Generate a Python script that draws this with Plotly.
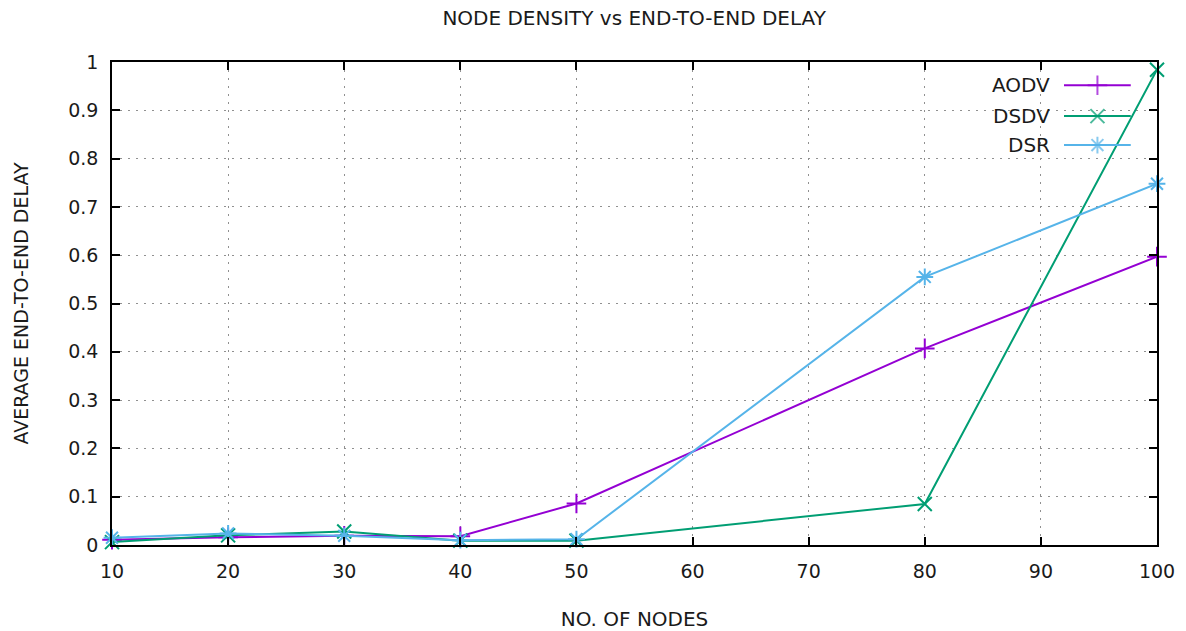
import plotly.graph_objects as go

# Node counts and measured average end-to-end delay per routing protocol
nodes = [10, 20, 30, 40, 50, 80, 100]
aodv = [0.011, 0.016, 0.019, 0.018, 0.086, 0.407, 0.597]
dsdv = [0.006, 0.020, 0.028, 0.009, 0.009, 0.085, 0.984]
dsr = [0.015, 0.024, 0.019, 0.010, 0.012, 0.555, 0.748]

x_ticks = [10, 20, 30, 40, 50, 60, 70, 80, 90, 100]
y_ticks = [0, 0.1, 0.2, 0.3, 0.4, 0.5, 0.6, 0.7, 0.8, 0.9, 1]
y_tick_text = ["0", "0.1", "0.2", "0.3", "0.4", "0.5", "0.6", "0.7", "0.8", "0.9", "1"]

series = [
    ("AODV", aodv, "#9400D3", "cross-thin"),
    ("DSDV", dsdv, "#009E73", "x-thin"),
    ("DSR", dsr, "#56B4E9", "asterisk"),
]

FONT = "DejaVu Sans"
INK = "#1a1a1a"

fig = go.Figure()
for name, vals, color, sym in series:
    fig.add_trace(go.Scatter(
        x=nodes, y=vals, name=name, mode="lines+markers",
        line=dict(color=color, width=2),
        marker=dict(symbol=sym, size=14, line=dict(color=color, width=2), color=color),
        cliponaxis=False, showlegend=False,
    ))

# gnuplot-style key: label on the left, line sample with marker on the right
key_y = [0.952, 0.888, 0.828]
for (name, vals, color, sym), ky in zip(series, key_y):
    fig.add_trace(go.Scatter(
        x=[0.0, 0.5, 1.0], y=[ky, ky, ky], xaxis="x2", yaxis="y2",
        mode="lines+markers", line=dict(color=color, width=2),
        marker=dict(symbol=["circle-open", sym, "circle-open"], size=[0, 14, 0],
                    color=color, line=dict(color=color, width=2)),
        cliponaxis=False, showlegend=False, hoverinfo="skip",
    ))
    fig.add_annotation(
        x=0.8995, y=ky, xref="paper", yref="paper", text=name,
        showarrow=False, xanchor="right", yanchor="middle",
        font=dict(family=FONT, size=20, color=INK),
    )

axis_common = dict(
    showline=True, linecolor="#000000", linewidth=1.5, mirror="ticks",
    ticks="inside", ticklen=8, tickwidth=1.5, tickcolor="#000000",
    showgrid=True, gridcolor="#909090", gridwidth=1, griddash="2px,6px",
    zeroline=False, automargin=False,
    tickfont=dict(family=FONT, size=19, color=INK),
)

fig.update_layout(
    width=1186, height=631,
    margin=dict(l=112, r=29, t=62, b=86),
    paper_bgcolor="#ffffff", plot_bgcolor="rgba(0,0,0,0)",
    title=dict(text="NODE DENSITY vs END-TO-END DELAY", x=0.5347, xanchor="center",
               y=0.971, yanchor="middle", automargin=False,
               font=dict(family=FONT, size=20, color=INK)),
    xaxis=dict(range=[10, 100], tickvals=x_ticks, ticklabelstandoff=8,
               title=dict(text="NO. OF NODES", standoff=31,
                          font=dict(family=FONT, size=20, color=INK)),
               **axis_common),
    yaxis=dict(range=[0, 1], tickvals=y_ticks, ticktext=y_tick_text, ticklabelstandoff=8,
               title=dict(text="AVERAGE END-TO-END DELAY", standoff=35,
                          font=dict(family=FONT, size=19, color=INK)),
               **axis_common),
    xaxis2=dict(domain=[0.911, 0.975], range=[0, 1], visible=False, anchor="y2"),
    yaxis2=dict(domain=[0, 1], range=[0, 1], visible=False, anchor="x2"),
)

fig.write_html("out.html")
